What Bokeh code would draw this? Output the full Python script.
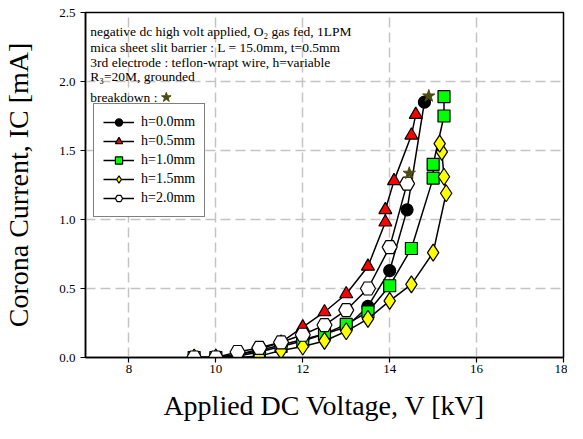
from bokeh.plotting import figure
from bokeh.models import FixedTicker, Legend, LegendItem, Label, Range1d, NumeralTickFormatter
from bokeh.embed import file_html
from bokeh.resources import INLINE

# ---- data ----
v_h00 = [9.5, 10, 10.5, 11, 11.5, 12, 12.5, 13, 13.5, 14, 14.4, 14.8]
i_h00 = [0, 0, 0.02, 0.05, 0.09, 0.13, 0.17, 0.22, 0.37, 0.63, 1.07, 1.85]

v_h05 = [9.5, 10, 10.5, 11, 11.5, 12, 12.5, 13, 13.5, 13.9, 13.9, 14.1, 14.5, 14.6]
i_h05 = [0, 0, 0.02, 0.06, 0.11, 0.22, 0.33, 0.46, 0.66, 0.98, 1.07, 1.28, 1.61, 1.76]

v_h10 = [9.5, 10, 10.5, 11, 11.5, 12, 12.5, 13, 13.5, 14, 14.5, 15, 15, 15.25, 15.25]
i_h10 = [0, 0, 0.01, 0.04, 0.08, 0.12, 0.17, 0.24, 0.33, 0.52, 0.79, 1.30, 1.40, 1.75, 1.89]

v_h15 = [9.5, 10, 10.5, 11, 11.5, 12, 12.5, 13, 13.5, 14, 14.5, 15, 15.3, 15.25, 15.2, 15.15]
i_h15 = [0, 0, 0, 0.01, 0.05, 0.08, 0.12, 0.19, 0.28, 0.41, 0.53, 0.76, 1.19, 1.31, 1.49, 1.55]

v_h20 = [9.5, 10, 10.5, 11, 11.5, 12, 12.5, 13, 13.5, 14, 14.4]
i_h20 = [0, 0, 0.04, 0.07, 0.11, 0.165, 0.235, 0.343, 0.50, 0.80, 1.26]

v_break = [14.9, 14.45]
i_break = [1.895, 1.335]

series_labels = ["h=0.0mm", "h=0.5mm", "h=1.0mm", "h=1.5mm", "h=2.0mm"]
x_ticks = [8, 10, 12, 14, 16, 18]
y_ticks = [0, 0.5, 1.0, 1.5, 2.0, 2.5]

notes = [
    "negative dc high volt applied, O\u2082 gas fed, 1LPM",
    "mica sheet slit barrier : L = 15.0mm, t=0.5mm",
    "3rd electrode : teflon-wrapt wire, h=variable",
    "R\u2083=20M, grounded",
    "breakdown : ",
]

SERIF = "Liberation Serif"

p = figure(width=567, height=423, x_range=Range1d(7, 18), y_range=Range1d(0, 2.5),
           output_backend="svg", toolbar_location=None,
           min_border_left=81, min_border_right=4, min_border_top=12, min_border_bottom=65)
p.background_fill_color = "white"
p.border_fill_color = "white"
p.outline_line_color = "black"
p.outline_line_width = 1.5

for ax in (p.xaxis, p.yaxis):
    ax.axis_line_width = 1.5
    ax.axis_line_color = "black"
    ax.major_tick_line_color = "black"
    ax.major_tick_line_width = 1.2
    ax.major_tick_out = 5
    ax.major_tick_in = 0
    ax.minor_tick_line_color = None
    ax.major_label_text_font = SERIF
    ax.major_label_text_font_size = "13px"
    ax.major_label_text_color = "black"
    ax.axis_label_text_font = SERIF
    ax.axis_label_text_font_size = "28px"
    ax.axis_label_text_font_style = "normal"
    ax.axis_label_text_color = "black"

p.xaxis.ticker = FixedTicker(ticks=x_ticks)
p.yaxis.ticker = FixedTicker(ticks=y_ticks)
p.yaxis.formatter = NumeralTickFormatter(format="0.0")
p.xaxis.major_label_standoff = 2
p.yaxis.major_label_standoff = 5
p.xaxis.axis_label = "Applied DC Voltage, V [kV]"
p.yaxis.axis_label = "Corona Current, IC [mA]"
p.xaxis.axis_label_standoff = 14
p.yaxis.axis_label_standoff = 22

for g in (p.xgrid, p.ygrid):
    g.grid_line_color = "#c4c4c4"
    g.grid_line_width = 1.5
    g.grid_line_dash = "10 5"

styles = [
    (v_h00, i_h00, "circle", "black", 12),
    (v_h05, i_h05, "triangle", "red", 13),
    (v_h10, i_h10, "square", "#00ff00", 12),
    (v_h15, i_h15, "diamond", "yellow", 17),
    (v_h20, i_h20, "hex", "white", 15),
]

items = []
for (vx, iy, mk, col, sz), lab in zip(styles, series_labels):
    r1 = p.line(vx, iy, line_color="black", line_width=1.5)
    r2 = p.scatter(vx, iy, marker=mk, size=sz, fill_color=col, line_color="black", line_width=1.2)
    items.append(LegendItem(label=lab, renderers=[r1, r2]))

p.scatter(v_break, i_break, marker="star", size=13, fill_color="#4b4b12", line_color="#4b4b12")

legend = Legend(items=items, location=(8, 140))
legend.label_text_font = SERIF
legend.label_text_font_size = "14px"
legend.label_text_color = "black"
legend.border_line_color = "black"
legend.border_line_width = 1.5
legend.background_fill_alpha = 1.0
legend.glyph_width = 31
legend.glyph_height = 18
legend.label_height = 18
legend.spacing = 1
legend.padding = 9
legend.margin = 0
legend.label_standoff = 7
p.add_layout(legend, "center")

note_y = [2.365, 2.245, 2.14, 2.035, 1.885]
for txt, yy in zip(notes, note_y):
    p.add_layout(Label(x=7.11, y=yy, text=txt, text_font=SERIF, text_font_size="13.5px",
                       text_baseline="middle", text_color="black"))
p.scatter([8.86], [1.885], marker="star", size=10, fill_color="#4b4b12", line_color="#4b4b12")

open("out.html", "w").write(file_html(p, INLINE))
